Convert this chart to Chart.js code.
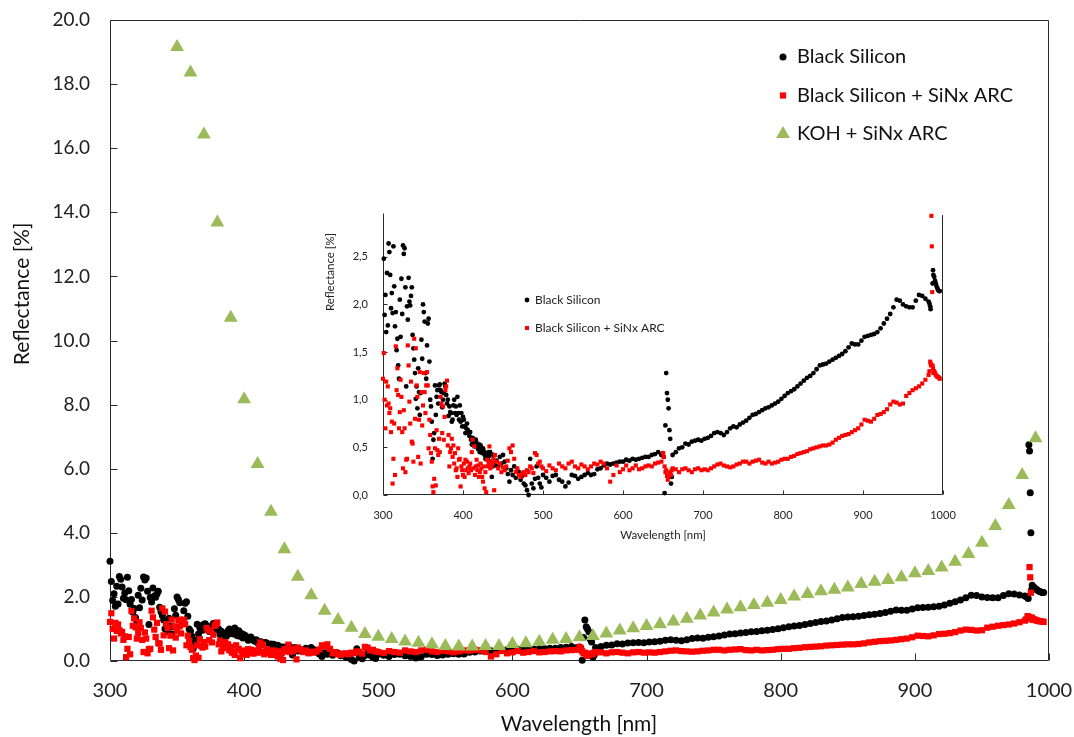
<!DOCTYPE html>
<html>
<head>
<meta charset="utf-8">
<title>Reflectance spectra</title>
<script src="https://cdn.jsdelivr.net/npm/chart.js@4.4.1/dist/chart.umd.min.js"></script>
<style>
  html, body { margin: 0; padding: 0; background: #fff; }
  #wrap { position: relative; width: 1074px; height: 737px; }
  #main { position: absolute; left: 0; top: 0; }
  #inset { position: absolute; left: 300px; top: 200px; }
</style>
</head>
<body>
<div id="wrap">
  <canvas id="main" width="1074" height="737"></canvas>
  <canvas id="inset" width="660" height="345"></canvas>
</div>
<script>
// measurement grid [nm] shared by both black silicon samples
const wavelength = [
  300, 301, 302, 303, 304, 305, 306, 307, 308, 309,
  310, 311, 312, 313, 314, 315, 316, 317, 318, 319,
  320, 321, 322, 323, 324, 325, 326, 327, 328, 329,
  330, 331, 332, 333, 334, 335, 336, 337, 338, 339,
  340, 341, 342, 343, 344, 345, 346, 347, 348, 349,
  350, 351, 352, 353, 354, 355, 356, 357, 358, 359,
  360, 361, 362, 363, 364, 365, 366, 367, 368, 369,
  370, 371, 372, 373, 374, 375, 376, 377, 378, 379,
  380, 381, 382, 383, 384, 385, 386, 387, 388, 389,
  390, 391, 392, 393, 394, 395, 396, 397, 398, 399,
  400, 401, 402, 403, 404, 405, 406, 407, 408, 409,
  410, 411, 412, 413, 414, 415, 416, 417, 418, 419,
  420, 421, 422, 423, 424, 425, 426, 427, 428, 429,
  430, 431, 432, 433, 434, 435, 436, 437, 438, 439,
  440, 442, 444, 446, 448, 450, 452, 454, 456, 458,
  460, 462, 464, 466, 468, 470, 472, 474, 476, 478,
  480, 482, 484, 486, 488, 490, 492, 494, 496, 498,
  500,
  504, 508, 512, 516, 520, 524, 528, 532, 536, 540,
  544, 548, 552, 556, 560, 564, 568, 572, 576, 580,
  584, 588, 592, 596, 600, 604, 608, 612, 616, 620,
  624, 628, 632, 636, 640, 644, 648,
  650, 651, 652, 653, 654, 655, 656, 657, 658, 659, 660, 661, 662,
  666, 670, 674, 678, 682, 686, 690, 694, 698, 702,
  706, 710, 714, 718, 722, 726, 730, 734, 738, 742,
  746, 750, 754, 758, 762, 766, 770, 774, 778, 782,
  786, 790, 794, 798, 802, 806, 810, 814, 818, 822,
  826, 830, 834, 838, 842, 846, 850, 854, 858, 862,
  866, 870, 874, 878, 882, 886, 890, 894, 898, 902,
  906, 910, 914, 918, 922, 926, 930, 934, 938, 942,
  946, 950, 954, 958, 962, 966, 970, 974, 978, 982,
  983, 984, 984.5, 985, 985.5, 986, 986.5, 987, 987.5, 988, 989, 990, 991, 992, 993, 994, 995, 996
];

// reflectance [%], black silicon
const blackSi = [
  3.11, 2.48, 1.89, 2.10, 1.71, 2.33, 1.78, 2.64, 2.55, 2.31,
  1.96, 2.12, 1.91, 2.61, 2.19, 1.77, 1.92, 1.52, 1.64, 1.36,
  1.22, 2.05, 1.66, 2.27, 1.90, 2.62, 2.53, 2.59, 2.18, 1.14,
  1.98, 1.84, 2.28, 2.03, 1.99, 2.09, 2.18, 1.68, 1.54, 1.42,
  1.28, 1.01, 1.14, 0.91, 1.33, 1.08, 0.84, 1.07, 1.63, 1.43,
  2.00, 1.92, 1.82, 1.28, 1.22, 1.57, 1.80, 1.85, 1.40, 1.00,
  0.93, 0.77, 0.38, 0.58, 0.65, 1.15, 0.84, 1.03, 1.10, 0.96,
  1.15, 1.16, 1.10, 1.08, 0.92, 1.00, 1.07, 1.17, 1.14, 1.05,
  0.96, 1.00, 0.83, 0.93, 0.87, 0.86, 0.77, 0.79, 0.94, 1.00,
  0.86, 0.93, 0.84, 1.03, 0.86, 0.79, 0.94, 0.77, 0.86, 0.72,
  0.82, 0.79, 0.72, 0.65, 0.70, 0.75, 0.68, 0.65, 0.62, 0.66,
  0.58, 0.53, 0.60, 0.59, 0.56, 0.51, 0.58, 0.55, 0.51, 0.48,
  0.53, 0.45, 0.52, 0.48, 0.44, 0.49, 0.46, 0.42, 0.38, 0.44,
  0.40, 0.37, 0.45, 0.41, 0.45, 0.35, 0.19, 0.30, 0.42, 0.33,
  0.31, 0.36, 0.30, 0.40, 0.33, 0.42, 0.35, 0.28, 0.22, 0.14,
  0.26, 0.21, 0.30, 0.18, 0.25, 0.24, 0.16, 0.20, 0.12, 0.10,
  0.05, 0.00, 0.38, 0.12, 0.07, 0.17, 0.30, 0.18, 0.12, 0.08,
  0.21,
  0.18, 0.14, 0.20, 0.21, 0.16, 0.14, 0.09, 0.13, 0.21, 0.20,
  0.17, 0.19, 0.21, 0.23, 0.21, 0.22, 0.27, 0.28, 0.31, 0.33,
  0.32, 0.33, 0.34, 0.35, 0.35, 0.37, 0.36, 0.38, 0.37, 0.38,
  0.39, 0.40, 0.40, 0.42, 0.43, 0.45, 0.42,
  0.44, 0.40, 0.02, 0.73, 1.28, 1.07, 1.00, 0.91, 0.68, 0.59, 0.12, 0.19, 0.42,
  0.45, 0.49, 0.50, 0.54, 0.53, 0.56, 0.57, 0.58, 0.57, 0.59,
  0.60, 0.62, 0.65, 0.66, 0.65, 0.63, 0.66, 0.70, 0.72, 0.71,
  0.74, 0.76, 0.78, 0.81, 0.84, 0.85, 0.87, 0.89, 0.91, 0.92,
  0.94, 0.96, 0.98, 1.01, 1.04, 1.07, 1.09, 1.11, 1.14, 1.17,
  1.20, 1.23, 1.25, 1.28, 1.32, 1.36, 1.37, 1.38, 1.40, 1.42,
  1.44, 1.46, 1.48, 1.51, 1.55, 1.59, 1.58, 1.58, 1.62, 1.66,
  1.67, 1.68, 1.69, 1.71, 1.75, 1.80, 1.85, 1.90, 1.97, 2.05,
  2.04, 2.00, 1.98, 1.97, 1.97, 2.04, 2.10, 2.09, 2.06, 2.03,
  2.01, 1.98, 1.95, 6.75, 6.55, 5.25, 4.00, 2.22, 2.36, 2.31, 2.29, 2.25, 2.22, 2.19, 2.17, 2.15, 2.14, 2.14
];

// reflectance [%], black silicon with SiNx anti-reflection coating
const blackSiArc = [
  1.22, 1.49, 1.00, 0.70, 1.19, 0.94, 1.14, 0.96, 0.86, 0.91,
  0.66, 0.77, 0.12, 0.38, 0.75, 0.21, 1.56, 1.10, 1.33, 1.05,
  0.70, 0.87, 1.21, 1.03, 0.66, 0.28, 0.89, 0.70, 0.24, 0.37,
  0.38, 1.57, 1.36, 0.98, 0.75, 1.19, 0.56, 0.54, 0.35, 1.64,
  0.80, 1.54, 1.15, 1.03, 0.40, 0.79, 1.29, 0.33, 1.08, 0.73,
  0.94, 1.28, 1.08, 0.86, 1.15, 1.29, 1.15, 0.49, 0.79, 0.63,
  0.44, 0.35, 0.09, 0.03, 0.17, 0.49, 0.10, 0.68, 0.47, 0.42,
  0.59, 0.45, 1.03, 0.96, 0.65, 0.93, 0.58, 0.82, 1.10, 1.14,
  1.20, 0.52, 0.63, 0.30, 0.45, 0.49, 0.59, 0.40, 0.52, 0.33,
  0.44, 0.26, 0.28, 0.19, 0.49, 0.37, 0.38, 0.09, 0.30, 0.26,
  0.21, 0.33, 0.19, 0.37, 0.26, 0.35, 0.28, 0.23, 0.30, 0.33,
  0.26, 0.45, 0.58, 0.28, 0.51, 0.21, 0.30, 0.37, 0.26, 0.31,
  0.19, 0.24, 0.33, 0.28, 0.19, 0.14, 0.30, 0.07, 0.24, 0.03,
  0.37, 0.30, 0.33, 0.51, 0.28, 0.35, 0.30, 0.33, 0.38, 0.05,
  0.42, 0.35, 0.28, 0.33, 0.24, 0.29, 0.26, 0.30, 0.36, 0.49,
  0.45, 0.52, 0.38, 0.24, 0.28, 0.21, 0.19, 0.23, 0.24, 0.21,
  0.26, 0.24, 0.30, 0.28, 0.23, 0.44, 0.42, 0.33, 0.35, 0.30,
  0.28,
  0.25, 0.31, 0.28, 0.26, 0.33, 0.30, 0.28, 0.33, 0.35, 0.30,
  0.28, 0.32, 0.30, 0.27, 0.30, 0.33, 0.32, 0.35, 0.33, 0.28,
  0.14, 0.21, 0.31, 0.24, 0.27, 0.31, 0.26, 0.28, 0.31, 0.27,
  0.28, 0.30, 0.31, 0.30, 0.33, 0.34, 0.35,
  0.44, 0.40, 0.30, 0.24, 0.26, 0.20, 0.16, 0.19, 0.22, 0.24, 0.21, 0.26, 0.28,
  0.27, 0.24, 0.27, 0.28, 0.26, 0.24, 0.27, 0.28, 0.26, 0.27,
  0.26, 0.28, 0.30, 0.32, 0.33, 0.31, 0.30, 0.29, 0.30, 0.32,
  0.33, 0.35, 0.35, 0.33, 0.35, 0.36, 0.37, 0.34, 0.33, 0.35,
  0.33, 0.34, 0.35, 0.37, 0.38, 0.38, 0.40, 0.41, 0.43, 0.44,
  0.45, 0.46, 0.48, 0.49, 0.50, 0.51, 0.52, 0.52, 0.53, 0.55,
  0.58, 0.60, 0.62, 0.63, 0.64, 0.66, 0.68, 0.70, 0.74, 0.79,
  0.78, 0.77, 0.80, 0.84, 0.85, 0.87, 0.90, 0.95, 0.98, 0.97,
  0.95, 0.96, 1.04, 1.07, 1.10, 1.12, 1.14, 1.17, 1.21, 1.26,
  1.30, 1.40, 1.38, 1.36, 2.93, 2.61, 2.13, 1.36, 1.33, 1.28, 1.30, 1.28, 1.26, 1.25, 1.24, 1.24, 1.23, 1.22
];

// KOH textured reference with SiNx ARC, measured every 10 nm
const kohWavelength = [
  350, 360, 370, 380, 390, 400, 410, 420, 430, 440,
  450, 460, 470, 480, 490, 500, 510, 520, 530, 540,
  550, 560, 570, 580, 590, 600, 610, 620, 630, 640,
  650, 660, 670, 680, 690, 700, 710, 720, 730, 740,
  750, 760, 770, 780, 790, 800, 810, 820, 830, 840,
  850, 860, 870, 880, 890, 900, 910, 920, 930, 940,
  950, 960, 970, 980, 990
];
const kohArc = [
  19.16, 18.36, 16.43, 13.68, 10.71, 8.17, 6.15, 4.66, 3.49, 2.63,
  2.05, 1.57, 1.28, 1.04, 0.84, 0.76, 0.69, 0.61, 0.57, 0.52,
  0.47, 0.45, 0.45, 0.47, 0.47, 0.53, 0.55, 0.60, 0.66, 0.69,
  0.74, 0.78, 0.86, 0.95, 1.02, 1.09, 1.15, 1.23, 1.32, 1.42,
  1.51, 1.61, 1.68, 1.75, 1.82, 1.90, 2.01, 2.09, 2.18, 2.22,
  2.29, 2.40, 2.47, 2.53, 2.61, 2.74, 2.81, 2.92, 3.10, 3.34,
  3.69, 4.21, 4.87, 5.80, 6.95
];

const mainXTicks = [300, 1000, 100];
const mainYTicks = [0, 20, 2];
const insetXTicks = [300, 1000, 100];
const insetYTicks = [0, 2.96, 0.5];

const toPoints = (xs, ys) => xs.map((x, i) => ({ x: x, y: ys[i] }));

Chart.defaults.font.family = 'Lato, "Open Sans", sans-serif';
Chart.defaults.color = '#222';

// axis lines, box and inward tick marks
const axisFrame = {
  id: 'axisFrame',
  beforeDatasetsDraw(chart, args, opts) {
    const { ctx, chartArea: a, scales } = chart;
    const L = Math.round(a.left) + 0.5, R = Math.round(a.right) - 0.5;
    const T = Math.round(a.top) + 0.5, B = Math.round(a.bottom) - 0.5;
    ctx.save();
    ctx.strokeStyle = opts.color;
    ctx.lineWidth = 1;
    ctx.beginPath();
    ctx.moveTo(L, T); ctx.lineTo(L, B); ctx.lineTo(R, B);
    if (opts.right) { ctx.moveTo(R, B); ctx.lineTo(R, opts.top ? T : a.top + 2); }
    if (opts.top) { ctx.moveTo(L, T); ctx.lineTo(R, T); }
    scales.x.ticks.forEach(t => {
      const px = Math.round(scales.x.getPixelForValue(t.value)) + 0.5;
      ctx.moveTo(px, B); ctx.lineTo(px, B - opts.tick);
    });
    scales.y.ticks.forEach(t => {
      const py = Math.round(scales.y.getPixelForValue(t.value)) + 0.5;
      ctx.moveTo(L, py); ctx.lineTo(L + opts.tick, py);
    });
    ctx.stroke();
    ctx.restore();
  }
};

// axis titles at fixed spots
const axisTitles = {
  id: 'axisTitles',
  afterDraw(chart, args, opts) {
    const ctx = chart.ctx;
    ctx.save();
    ctx.font = opts.font;
    ctx.fillStyle = opts.color;
    ctx.textAlign = 'center';
    ctx.textBaseline = 'middle';
    ctx.fillText(opts.xText, opts.xPos[0], opts.xPos[1]);
    ctx.translate(opts.yPos[0], opts.yPos[1]);
    ctx.rotate(-Math.PI / 2);
    ctx.fillText(opts.yText, 0, 0);
    ctx.restore();
  }
};

// legend rows using each dataset's own marker
const markerLegend = {
  id: 'markerLegend',
  afterDraw(chart, args, opts) {
    const ctx = chart.ctx;
    ctx.save();
    ctx.font = opts.font;
    ctx.textBaseline = 'middle';
    ctx.textAlign = 'left';
    chart.data.datasets.forEach((ds, i) => {
      const y = opts.top + i * opts.gap;
      ctx.fillStyle = ds.backgroundColor;
      Chart.helpers.drawPoint(ctx, {
        pointStyle: ds.pointStyle, rotation: 0, radius: ds.pointRadius, borderWidth: 0
      }, opts.markerX, y);
      ctx.fillStyle = opts.color;
      ctx.fillText(ds.label, opts.textX, y);
    });
    ctx.restore();
  }
};

function linearAxis(range, opts) {
  return {
    type: 'linear',
    min: range[0],
    max: range[1],
    grid: { display: false, drawTicks: false },
    border: { display: false },
    ticks: {
      stepSize: range[2],
      includeBounds: false,
      autoSkip: false,
      maxRotation: 0,
      padding: opts.padding,
      color: '#222',
      font: { size: opts.size },
      callback: opts.format
    },
    // fixed axis box, no extra room for overhanging end labels
    afterFit: s => {
      opts.fit(s);
      s.paddingLeft = s.paddingRight = s.paddingTop = s.paddingBottom = 0;
    }
  };
}

new Chart(document.getElementById('main'), {
  type: 'scatter',
  data: {
    datasets: [
      {
        label: 'Black Silicon',
        data: toPoints(wavelength, blackSi),
        pointStyle: 'circle', pointRadius: 3.5,
        backgroundColor: '#000000', order: 3
      },
      {
        label: 'Black Silicon + SiNx ARC',
        data: toPoints(wavelength, blackSiArc),
        pointStyle: 'rect', pointRadius: 4.4,
        backgroundColor: '#ff0000', order: 2
      },
      {
        label: 'KOH + SiNx ARC',
        data: toPoints(kohWavelength, kohArc),
        pointStyle: 'triangle', pointRadius: 8,
        backgroundColor: '#9bbb59', order: 1
      }
    ]
  },
  options: {
    responsive: false,
    animation: false,
    events: [],
    layout: { padding: { left: 0, right: 25, top: 20, bottom: 0 } },
    elements: { point: { borderWidth: 0, hoverRadius: 0 } },
    datasets: { scatter: { clip: false } },
    scales: {
      x: linearAxis(mainXTicks, { size: 20, padding: 18, fit: s => { s.height = 76; } }),
      y: linearAxis(mainYTicks, { size: 19, padding: 20, format: v => v.toFixed(1), fit: s => { s.width = 110; } })
    },
    plugins: {
      legend: { display: false },
      tooltip: { enabled: false },
      axisFrame: { color: '#2b2b2b', tick: 7, top: true, right: true },
      axisTitles: {
        font: '21px Lato', color: '#111',
        xText: 'Wavelength [nm]', xPos: [579, 724],
        yText: 'Reflectance [%]', yPos: [22, 294]
      },
      markerLegend: { font: '20px Lato', color: '#111', markerX: 783, textX: 797, top: 57, gap: 38.5 }
    }
  },
  plugins: [axisFrame, axisTitles, markerLegend]
});

new Chart(document.getElementById('inset'), {
  type: 'scatter',
  data: {
    datasets: [
      {
        label: 'Black Silicon',
        data: toPoints(wavelength, blackSi),
        pointStyle: 'circle', pointRadius: 2.4,
        backgroundColor: '#000000', order: 2
      },
      {
        label: 'Black Silicon + SiNx ARC',
        data: toPoints(wavelength, blackSiArc),
        pointStyle: 'rect', pointRadius: 2.9,
        backgroundColor: '#ff0000', order: 1
      }
    ]
  },
  options: {
    responsive: false,
    animation: false,
    events: [],
    layout: { padding: { left: 0, right: 17, top: 13, bottom: 0 } },
    elements: { point: { borderWidth: 0, hoverRadius: 0 } },
    datasets: { scatter: { clip: { left: 4, right: 4, bottom: 4, top: 0 } } },
    scales: {
      x: linearAxis(insetXTicks, { size: 11, padding: 14, fit: s => { s.height = 50; } }),
      y: linearAxis(insetYTicks, {
        size: 11, padding: 15,
        format: v => v.toFixed(1).replace('.', ','),
        fit: s => { s.width = 83; }
      })
    },
    plugins: {
      legend: { display: false },
      tooltip: { enabled: false },
      axisFrame: { color: '#2b2b2b', tick: 4, top: false, right: true },
      axisTitles: {
        font: '11.5px Lato', color: '#222',
        xText: 'Wavelength [nm]', xPos: [363, 335],
        yText: 'Reflectance [%]', yPos: [30, 72]
      },
      markerLegend: { font: '12px Lato', color: '#222', markerX: 227, textX: 235, top: 100, gap: 28 }
    }
  },
  plugins: [axisFrame, axisTitles, markerLegend]
});
</script>
</body>
</html>
